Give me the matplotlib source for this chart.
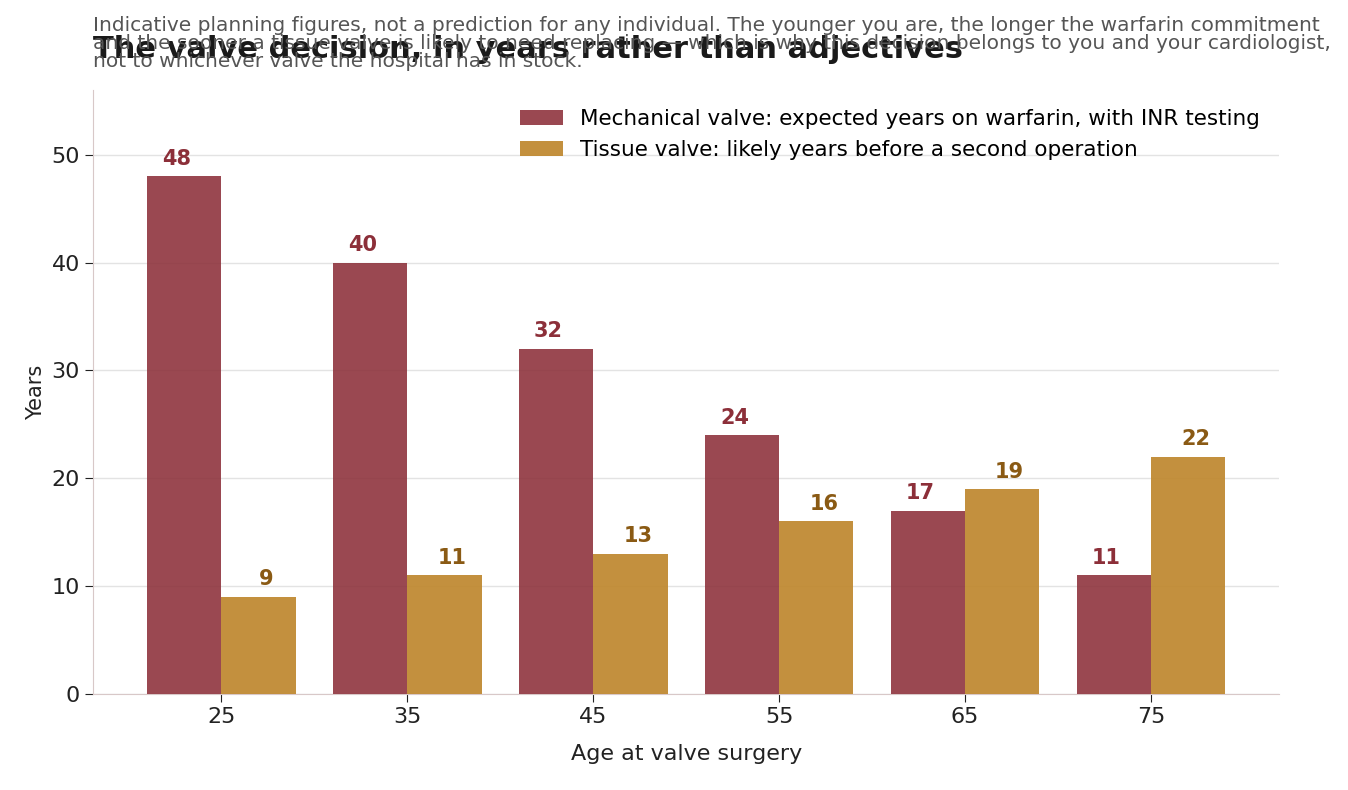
import matplotlib
matplotlib.use("Agg")
import matplotlib.pyplot as plt
import numpy as np

ages = ["25", "35", "45", "55", "65", "75"]
mechanical = [48, 40, 32, 24, 17, 11]
tissue = [9, 11, 13, 16, 19, 22]

fig = plt.figure(figsize=(13.48, 7.9), dpi=100)
ax = fig.add_axes([0.069, 0.1215, 0.88, 0.7645])
x = np.arange(len(ages))
w = 0.4
c1, c2 = "#8c2f39", "#c08a33"
ax.bar(x - w/2, mechanical, w, color=c1, alpha=0.88, label="Mechanical valve: expected years on warfarin, with INR testing", zorder=3)
ax.bar(x + w/2, tissue, w, color=c2, alpha=0.95, label="Tissue valve: likely years before a second operation", zorder=3)
for xi, v in zip(x - w/2, mechanical):
    ax.text(xi - 0.04, v + 0.7, str(v), ha="center", va="bottom", color=c1, fontsize=15, fontweight="bold")
for xi, v in zip(x + w/2, tissue):
    ax.text(xi + 0.04, v + 0.7, str(v), ha="center", va="bottom", color="#8a5a14", fontsize=15, fontweight="bold")

ax.set_xlim(-0.69, 5.69)
ax.set_ylim(0, 56)
ax.set_xticks(x)
ax.set_xticklabels(ages)
ax.set_yticks([0, 10, 20, 30, 40, 50])
ax.tick_params(labelsize=16, colors="#222222", length=6)
ax.grid(axis="y", color="#e3e3e3", linewidth=1, zorder=0)
for s in ["top", "right"]:
    ax.spines[s].set_visible(False)
for s in ["left", "bottom"]:
    ax.spines[s].set_color("#d8c8c8")
ax.set_xlabel("Age at valve surgery", fontsize=16, color="#222222", labelpad=12)
ax.set_ylabel("Years", fontsize=15, color="#222222", labelpad=4)
ax.legend(loc="upper right", frameon=False, fontsize=15.5, bbox_to_anchor=(1.0, 1.0))

fig.text(0.069, 1 - 50/790, "The valve decision, in years rather than adjectives",
         fontsize=22, fontweight="bold", color="#1a1a1a", va="center")
fig.text(0.069, 1 - 16/790,
         "Indicative planning figures, not a prediction for any individual. The younger you are, the longer the warfarin commitment\n"
         "and the sooner a tissue valve is likely to need replacing \u2014 which is why this decision belongs to you and your cardiologist,\n"
         "not to whichever valve the hospital has in stock.",
         fontsize=14.5, color="#555555", va="top", linespacing=0.92)
fig.savefig("out.png", dpi=100)
